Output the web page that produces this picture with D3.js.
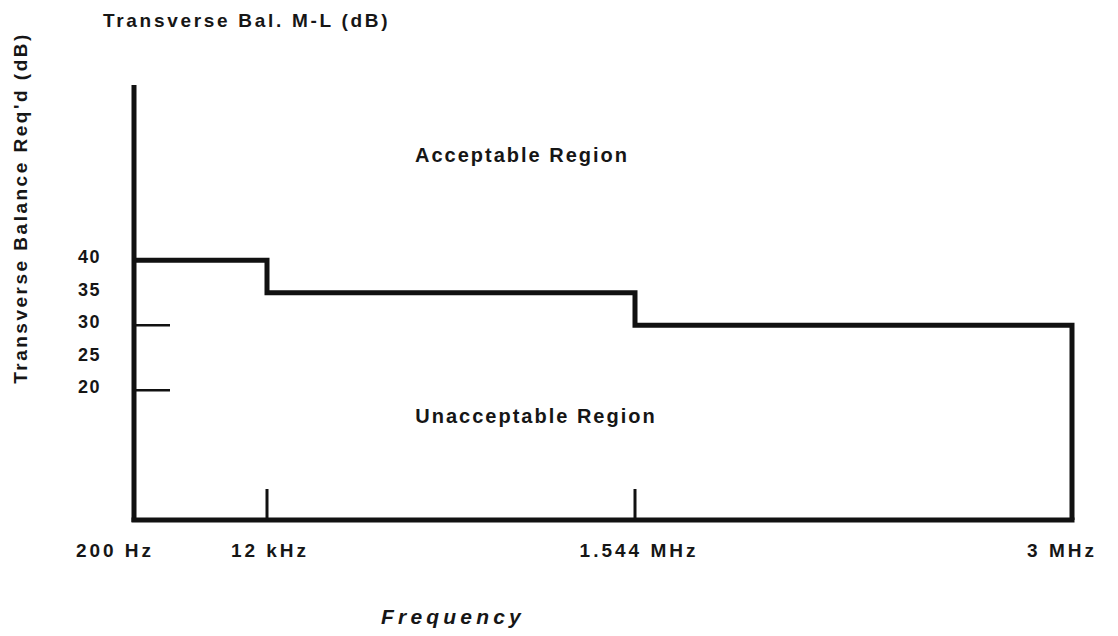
<!DOCTYPE html>
<html>
<head>
<meta charset="utf-8">
<script src="https://cdn.jsdelivr.net/npm/d3@7"></script>
<style>
  body { margin: 0; background: #fff; }
  text { font-family: "Liberation Sans", Arial, sans-serif; fill: #161616; font-weight: bold; }
</style>
</head>
<body>
<div id="graph"></div>
<script>
// frequency break points along the bottom
var freqLabels = ["200 Hz", "12 kHz", "1.544 MHz", "3 MHz"];
// required balance (dB) between each pair of break points
var levels = [40, 35, 30];
// labels down the left side, and the two that get a short tick
var yTickValues = [40, 35, 30, 25, 20];
var yTickMarks = [30, 20];
// breakpoints that get a small tick on the frequency axis
var xTickMarks = [1, 2];

var width = 1118, height = 636;

var svg = d3.select("#graph")
    .append("svg")
    .attr("width", width)
    .attr("height", height);

// frequency axis isn't log or linear in the drawing - piecewise per break point
var x = d3.scaleLinear()
    .domain(d3.range(freqLabels.length))
    .range([134, 267, 635, 1072]);

var y = d3.scaleLinear().domain([0, 67]).range([520, 85]);

// the step line
var stepData = [];
levels.forEach(function(v, i) {
  stepData.push({ i: i, v: v });
  stepData.push({ i: i + 1, v: v });
});
stepData.push({ i: levels.length, v: 0 });

svg.append("path")
    .datum(stepData)
    .attr("fill", "none")
    .attr("stroke", "#111")
    .attr("stroke-width", 5)
    .attr("stroke-linejoin", "miter")
    .attr("d", d3.line()
      .x(function(d) { return x(d.i); })
      .y(function(d) { return y(d.v); }));

// axes
svg.append("line")
    .attr("x1", x(0)).attr("x2", x(0))
    .attr("y1", y(67)).attr("y2", y(0) + 2)
    .attr("stroke", "#111").attr("stroke-width", 5);

svg.append("line")
    .attr("x1", x(0) - 2.5).attr("x2", x(freqLabels.length - 1) + 2.5)
    .attr("y1", y(0)).attr("y2", y(0))
    .attr("stroke", "#111").attr("stroke-width", 5);

// small ticks
svg.selectAll(".ytick")
    .data(yTickMarks)
    .enter().append("line")
    .attr("x1", x(0)).attr("x2", x(0) + 36)
    .attr("y1", function(d) { return y(d); })
    .attr("y2", function(d) { return y(d); })
    .attr("stroke", "#111").attr("stroke-width", 2.5);

svg.selectAll(".xtick")
    .data(xTickMarks)
    .enter().append("line")
    .attr("x1", function(d) { return x(d); })
    .attr("x2", function(d) { return x(d); })
    .attr("y1", y(0)).attr("y2", y(0) - 31)
    .attr("stroke", "#111").attr("stroke-width", 3);

// tick labels
svg.selectAll(".ylab")
    .data(yTickValues)
    .enter().append("text")
    .attr("x", 101)
    .attr("y", function(d) { return y(d) + 3; })
    .attr("text-anchor", "end")
    .style("font-size", "18px")
    .style("letter-spacing", "1.5px")
    .text(function(d) { return d; });

svg.selectAll(".xlab")
    .data(freqLabels)
    .enter().append("text")
    .attr("x", function(d, i) { return x(i) + [-19, 3, 4, -10][i]; })
    .attr("y", 557)
    .attr("text-anchor", "middle")
    .style("font-size", "19px")
    .style("letter-spacing", "3px")
    .text(function(d) { return d; });

// titles / annotations
svg.append("text")
    .attr("x", 103).attr("y", 27)
    .style("font-size", "19px")
    .style("letter-spacing", "2.7px")
    .text("Transverse Bal. M-L (dB)");

svg.append("text")
    .attr("transform", "translate(27,208) rotate(-90)")
    .attr("text-anchor", "middle")
    .style("font-size", "19px")
    .style("letter-spacing", "2.5px")
    .text("Transverse Balance Req'd (dB)");

svg.append("text")
    .attr("x", 522).attr("y", 162)
    .attr("text-anchor", "middle")
    .style("font-size", "20px")
    .style("letter-spacing", "2px")
    .text("Acceptable Region");

svg.append("text")
    .attr("x", 536).attr("y", 423)
    .attr("text-anchor", "middle")
    .style("font-size", "20px")
    .style("letter-spacing", "2px")
    .text("Unacceptable Region");

svg.append("text")
    .attr("x", 453).attr("y", 624)
    .attr("text-anchor", "middle")
    .style("font-size", "21px")
    .style("font-style", "italic")
    .style("letter-spacing", "4.2px")
    .text("Frequency");
</script>
</body>
</html>
